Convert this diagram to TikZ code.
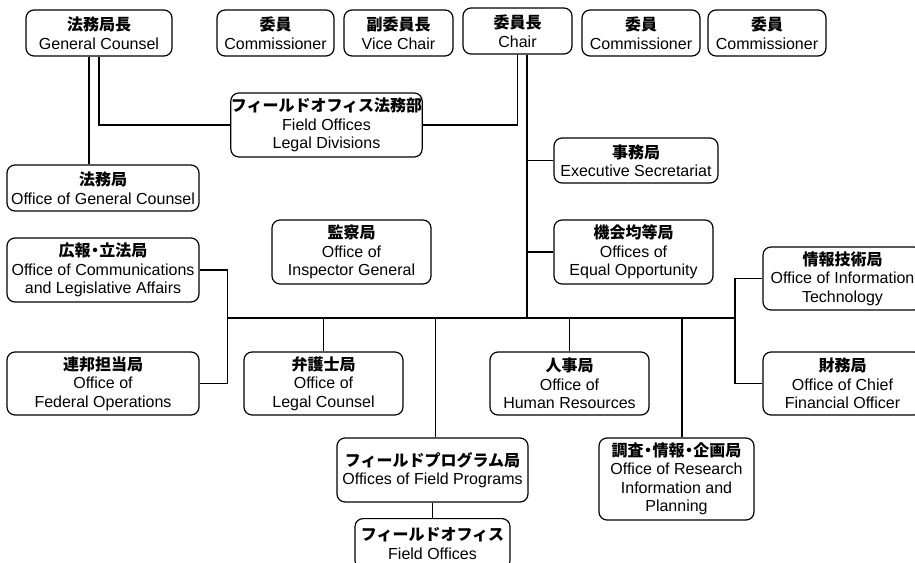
\documentclass[tikz,border=0pt]{standalone}
\usepackage{fontspec}
\setmainfont{Liberation Sans}
\newfontfamily\jp{Noto Sans CJK JP}
\newcommand\jl[1]{{\jp\bfseries #1}}
\newcommand\jdot{\hspace{-0.22em}・\hspace{-0.22em}}
\begin{document}
\begin{tikzpicture}[x=1pt,y=-1pt,
  box/.style={draw, rounded corners=8pt, line width=1.2pt, align=center, inner sep=0pt,
    font=\fontsize{16}{18.5}\selectfont},
  conn/.style={line width=1.2pt}]
\useasboundingbox (0,0) rectangle (915,562);
\clip (0,0) rectangle (915,562);
% top row
\node[box, minimum width=146pt, minimum height=46pt] (gc) at (99,33) {\jl{法務局長}\\General Counsel};
\node[box, minimum width=117pt, minimum height=46pt] (com1) at (275.5,33) {\jl{委員}\\Commissioner};
\node[box, minimum width=109pt, minimum height=46pt] (vc) at (398.5,33) {\jl{副委員長}\\Vice Chair};
\node[box, minimum width=109pt, minimum height=46pt] (chair) at (517.5,31) {\jl{委員長}\\Chair};
\node[box, minimum width=118pt, minimum height=46pt] (com2) at (641,33) {\jl{委員}\\Commissioner};
\node[box, minimum width=118pt, minimum height=46pt] (com3) at (767,33) {\jl{委員}\\Commissioner};
% second level
\node[box, minimum width=183pt, minimum height=64pt] (fold) at (326.5,125) {\jl{フィールドオフィス法務部}\\Field Offices\\Legal Divisions};
\node[box, minimum width=164pt, minimum height=45pt] (es) at (636,160.5) {\jl{事務局}\\Executive Secretariat};
\node[box, minimum width=192pt, minimum height=46pt] (ogc) at (103,188) {\jl{法務局}\\Office of General Counsel};
\node[box, minimum width=159pt, minimum height=64pt] (oig) at (351.5,252) {\jl{監察局}\\Office of\\Inspector General};
\node[box, minimum width=159pt, minimum height=64pt] (eeo) at (633.5,252) {\jl{機会均等局}\\Offices of\\Equal Opportunity};
\node[box, minimum width=192pt, minimum height=64pt] (ocla) at (103,270) {\jl{広報\jdot 立法局}\\Office of Communications\\and Legislative Affairs};
\node[box, minimum width=159pt, minimum height=63pt] (oit) at (842.5,278.5) {\jl{情報技術局}\\Office of Information\\Technology};
% third level
\node[box, minimum width=192pt, minimum height=63pt] (ofo) at (103,383.5) {\jl{連邦担当局}\\Office of\\Federal Operations};
\node[box, minimum width=159pt, minimum height=63pt] (olc) at (323.5,383.5) {\jl{弁護士局}\\Office of\\Legal Counsel};
\node[box, minimum width=159pt, minimum height=63pt] (ohr) at (569.5,383.5) {\jl{人事局}\\Office of\\Human Resources};
\node[box, minimum width=159pt, minimum height=63pt] (ocfo) at (842.5,383.5) {\jl{財務局}\\Office of Chief\\Financial Officer};
\node[box, minimum width=191pt, minimum height=64pt] (ofp) at (432.5,470) {\jl{フィールドプログラム局}\\Offices of Field Programs};
\node[box, minimum width=155pt, minimum height=82pt] (orip) at (676.5,479) {\jl{調査\jdot 情報\jdot 企画局}\\Office of Research\\Information and\\Planning};
\node[box, minimum width=155pt, minimum height=50pt, anchor=north] (fo) at (432.5,518) {\jl{フィールドオフィス}\\Field Offices};
% coordinates
\coordinate (busL) at (227.5,318);
\coordinate (busR) at (735,318);
\coordinate (spine) at (527,318);
% connectors
\draw[conn] ([xshift=-10pt]gc.south) -- ([xshift=-10pt]gc.south |- ogc.north);
\draw[conn] (gc.south) |- (fold.west);
\draw[conn] (fold.east) -| (chair.south);
\draw[conn] (chair.south -| spine) -- (spine);
\draw[conn] (es.west) -- (es.west -| spine);
\draw[conn] (eeo.west) -- (eeo.west -| spine);
\draw[conn] (busL) -- (busR);
\draw[conn] (ocla.east) -| (busL);
\draw[conn] (busL) |- (ofo.east);
\draw[conn] (oit.west) -| (busR);
\draw[conn] (busR) |- (ocfo.west);
\draw[conn] (olc.north) -- (olc.north |- busL);
\draw[conn] ([xshift=3pt]ofp.north) -- ([xshift=3pt]ofp.north |- busL);
\draw[conn] (ohr.north) -- (ohr.north |- busL);
\draw[conn] ([xshift=5.5pt]orip.north) -- ([xshift=5.5pt]orip.north |- busL);
\draw[conn] (ofp.south) -- (fo.north);
\end{tikzpicture}
\end{document}
